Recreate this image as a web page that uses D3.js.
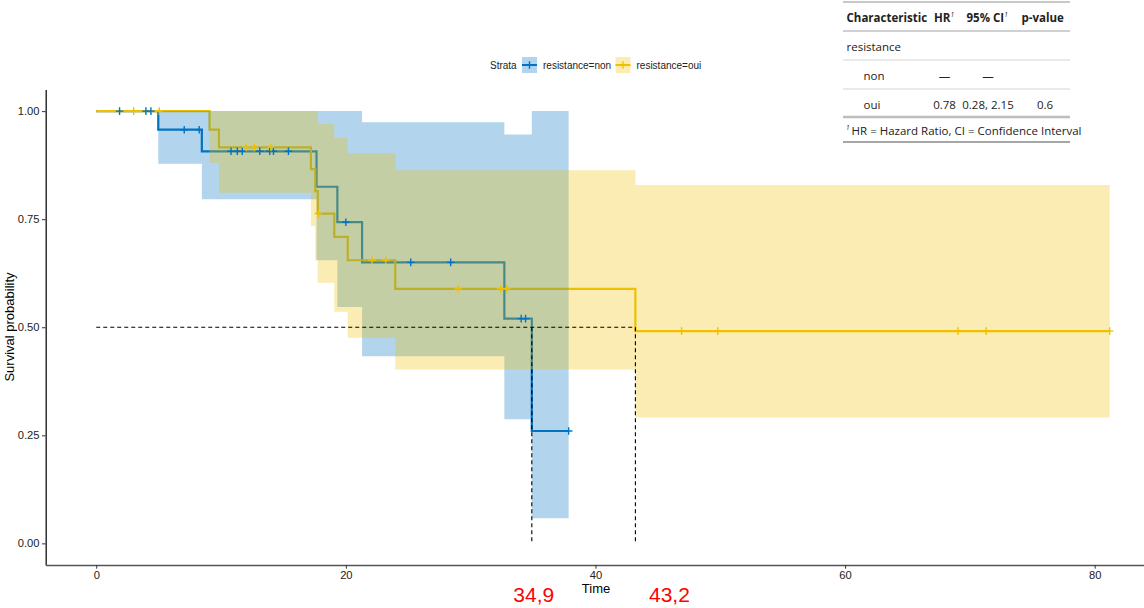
<!DOCTYPE html>
<html>
<head>
<meta charset="utf-8">
<script src="https://cdn.jsdelivr.net/npm/d3@7"></script>
<style>
  body { margin: 0; background: #fff; }
  svg { display: block; }
</style>
</head>
<body>
<div id="chart"></div>
<script>
const strata = ['resistance=non', 'resistance=oui'];
const strataColors = ['#0073C2', '#EFC000'];

// resistance=non : KM steps and 95% band
const nonTimes = [0, 4.97, 8.46, 17.65, 19.32, 21.3, 32.7, 34.9];
const nonSurv = [1, 0.957, 0.907, 0.825, 0.743, 0.650, 0.520, 0.260];
const nonLower = [1, 0.878, 0.796, 0.655, 0.547, 0.433, 0.287, 0.058];
const nonUpper = [1, 1, 1, 1, 1, 0.974, 0.946, 1];
const nonEnd = 37.85;
const nonCensored = [1.87, 3.98, 4.38, 7.05, 8.25, 10.8, 11.3, 11.7, 13.1, 13.9, 14.2, 15.4, 20.0, 25.2, 28.4, 34.05, 34.4, 37.85];

// resistance=oui
const ouiTimes = [0, 9.08, 9.83, 17.2, 17.55, 17.75, 19.07, 20.15, 23.96, 43.2];
const ouiSurv = [1, 0.957, 0.916, 0.866, 0.815, 0.763, 0.709, 0.655, 0.589, 0.491];
const ouiLower = [1, 0.880, 0.811, 0.734, 0.655, 0.603, 0.536, 0.476, 0.402, 0.291];
const ouiUpper = [1, 1, 1, 1, 1, 0.970, 0.938, 0.903, 0.863, 0.829];
const ouiEnd = 81.2;
const ouiCensored = [3.0, 5.05, 12.0, 12.66, 14.0, 17.8, 22.1, 23.2, 29.0, 32.4, 32.9, 46.9, 49.8, 69.05, 71.3, 81.2];

const xTicks = [0, 20, 40, 60, 80];
const yTicks = [0, 0.25, 0.5, 0.75, 1];
const medianTimes = [34.9, 43.2];
const medianLabels = ['34,9', '43,2'];

const tableHeader = ['Characteristic', 'HR', '95% CI', 'p-value'];
const tableRows = [
  ['resistance', '', '', ''],
  ['non', '—', '—', ''],
  ['oui', '0.78', '0.28, 2.15', '0.6']
];
const tableFootnote = 'HR = Hazard Ratio, CI = Confidence Interval';

const width = 1144, height = 608;
const font = '"Liberation Sans", Arial, sans-serif';
const tableFont = '"Open Sans", "Noto Sans", sans-serif';

function buildSteps(times, surv, lower, upper, end) {
  const steps = times.map((t, i) => ({ t, s: surv[i], lo: lower[i], hi: upper[i] }));
  steps.push({ ...steps[steps.length - 1], t: end });
  return steps;
}

function survAt(times, surv, t) {
  return surv[d3.bisectRight(times, t) - 1];
}

const series = [
  { id: strata[0], color: strataColors[0], steps: buildSteps(nonTimes, nonSurv, nonLower, nonUpper, nonEnd),
    censored: nonCensored.map(t => ({ t, s: survAt(nonTimes, nonSurv, t) })) },
  { id: strata[1], color: strataColors[1], steps: buildSteps(ouiTimes, ouiSurv, ouiLower, ouiUpper, ouiEnd),
    censored: ouiCensored.map(t => ({ t, s: survAt(ouiTimes, ouiSurv, t) })) }
];

const svg = d3.select('#chart').append('svg')
  .attr('width', width)
  .attr('height', height);

const x = d3.scaleLinear().domain([-4.05, 85.05]).range([45.7, 1157.7]);
const y = d3.scaleLinear().domain([-0.05, 1.05]).range([565, 89.5]);

const lineGen = d3.line().x(d => x(d.t)).y(d => y(d.s)).curve(d3.curveStepAfter);
const bandGen = d3.area().x(d => x(d.t)).y0(d => y(d.lo)).y1(d => y(d.hi)).curve(d3.curveStepAfter);
const plus = 'M-3.8,0H3.8M0,-3.8V3.8';

// curves first, bands on top (as survminer does), then censor marks
svg.append('g').selectAll('path').data(series).join('path')
  .attr('d', d => lineGen(d.steps))
  .attr('fill', 'none')
  .attr('stroke', d => d.color)
  .attr('stroke-width', 2.2);

svg.append('g').selectAll('path').data(series).join('path')
  .attr('d', d => bandGen(d.steps))
  .attr('fill', d => d.color)
  .attr('fill-opacity', 0.3);

series.forEach(sr => {
  svg.append('g').selectAll('path').data(sr.censored).join('path')
    .attr('transform', d => `translate(${x(d.t)},${y(d.s)})`)
    .attr('d', plus)
    .attr('stroke', sr.color)
    .attr('stroke-width', 1.4);
});

// median lines
const medianG = svg.append('g')
  .attr('stroke', '#000')
  .attr('stroke-width', 1.1)
  .attr('stroke-dasharray', '4,3')
  .attr('fill', 'none');
medianG.append('line')
  .attr('x1', x(0)).attr('x2', x(d3.max(medianTimes)))
  .attr('y1', y(0.5)).attr('y2', y(0.5));
medianG.selectAll('.vline').data(medianTimes).join('line')
  .attr('class', 'vline')
  .attr('x1', d => x(d)).attr('x2', d => x(d))
  .attr('y1', y(0.5)).attr('y2', y(0));

// axes
const yAxis = svg.append('g')
  .attr('transform', `translate(${x.range()[0]},0)`)
  .call(d3.axisLeft(y).tickValues(yTicks).tickFormat(d3.format('.2f')).tickSize(3.7).tickSizeOuter(0).tickPadding(2.5));
const xAxis = svg.append('g')
  .attr('transform', `translate(0,${y.range()[0]})`)
  .call(d3.axisBottom(x).tickValues(xTicks).tickSize(3.7).tickSizeOuter(0).tickPadding(2.5));

[yAxis, xAxis].forEach(g => {
  g.selectAll('text').attr('font-family', font).attr('font-size', 11.2).attr('fill', '#222');
  g.selectAll('.tick line').attr('stroke', '#333');
});
yAxis.select('.domain').attr('stroke', '#111').attr('stroke-width', 1.3);
xAxis.select('.domain').attr('stroke', '#555').attr('stroke-width', 1.6);

svg.append('text')
  .attr('x', 596).attr('y', 593)
  .attr('text-anchor', 'middle')
  .attr('font-family', font).attr('font-size', 13)
  .text('Time');

svg.append('text')
  .attr('transform', 'translate(14,327) rotate(-90)')
  .attr('text-anchor', 'middle')
  .attr('font-family', font).attr('font-size', 13)
  .text('Survival probability');

// red median annotations
svg.append('g').selectAll('text').data(medianTimes).join('text')
  .attr('x', (d, i) => x(d) + (i === 0 ? 2 : 34))
  .attr('y', 602)
  .attr('text-anchor', 'middle')
  .attr('font-family', font).attr('font-size', 21)
  .attr('fill', '#ff0000')
  .text((d, i) => medianLabels[i]);

// legend
const legend = svg.append('g').attr('font-family', font).attr('font-size', 10).attr('fill', '#222');
legend.append('text').attr('x', 490).attr('y', 68.5).text('Strata');
const legendX = [522, 615.5];
series.forEach((sr, i) => {
  const k = legend.append('g').attr('transform', `translate(${legendX[i]},57)`);
  k.append('rect').attr('width', 15).attr('height', 16).attr('fill', sr.color).attr('fill-opacity', 0.3);
  k.append('line').attr('x1', 0).attr('x2', 15).attr('y1', 8).attr('y2', 8)
    .attr('stroke', sr.color).attr('stroke-width', 2);
  k.append('path').attr('transform', 'translate(7.5,8)').attr('d', plus)
    .attr('stroke', sr.color).attr('stroke-width', 1.4);
  legend.append('text').attr('x', legendX[i] + 21).attr('y', 68.5).text(sr.id);
});

// summary table
const table = svg.append('g').attr('font-family', tableFont).attr('font-size', 11.5).attr('fill', '#222');
const tLeft = 843, tRight = 1070;
const rules = [
  { y: 2, c: '#c8c8c8', w: 2 },
  { y: 31, c: '#d0d0d0', w: 2 },
  { y: 60, c: '#e2e2e2', w: 1.5 },
  { y: 89, c: '#e2e2e2', w: 1.5 },
  { y: 117, c: '#bdbdbd', w: 2.5 },
  { y: 142, c: '#a6a6a6', w: 2 }
];
table.selectAll('line').data(rules).join('line')
  .attr('x1', tLeft).attr('x2', tRight)
  .attr('y1', d => d.y).attr('y2', d => d.y)
  .attr('stroke', d => d.c).attr('stroke-width', d => d.w);

const headX = [846.5, 934, 966.5, 1021.5];
const head = table.append('g').attr('font-weight', 'bold');
tableHeader.forEach((h, i) => {
  const t = head.append('text').attr('x', headX[i]).attr('y', 22).text(h);
  if (i === 1 || i === 2) {
    t.append('tspan').attr('dy', -5).attr('font-size', 6.5).attr('font-style', 'italic').attr('font-weight', 'normal').text('1');
  }
});

const rowY = [51, 80, 108.5];
const colX = [846.5, 944.5, 988, 1045];
tableRows.forEach((row, r) => {
  row.forEach((cell, c) => {
    if (!cell) return;
    table.append('text')
      .attr('x', c === 0 ? colX[0] + (r > 0 ? 17 : 0) : colX[c])
      .attr('y', rowY[r])
      .attr('text-anchor', c === 0 ? 'start' : 'middle')
      .text(cell);
  });
});

const foot = table.append('text').attr('x', 846).attr('y', 135);
foot.append('tspan').attr('font-size', 6.5).attr('font-style', 'italic').attr('dy', -5).text('1');
foot.append('tspan').attr('dy', 5).attr('dx', 2).text(tableFootnote);
</script>
</body>
</html>
